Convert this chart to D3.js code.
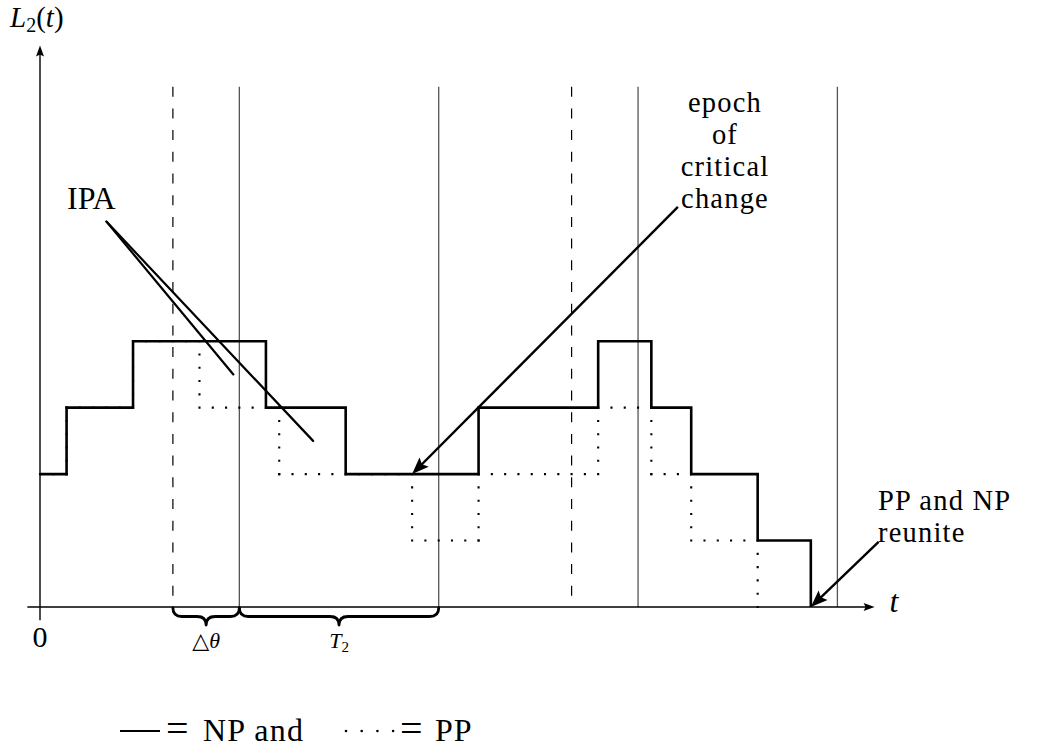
<!DOCTYPE html>
<html>
<head>
<meta charset="utf-8">
<script src="https://cdn.jsdelivr.net/npm/d3@7"></script>
<style>
  html, body { margin: 0; padding: 0; background: #fff; }
  svg { display: block; }
  text { font-family: "Liberation Serif", "DejaVu Serif", serif; fill: #000; }
</style>
</head>
<body>
<svg id="chart" width="1047" height="751"></svg>
<script>
// Step data: times at which each path changes level, and the level it takes
const npTimes  = [0, 4, 14, 34, 46, 66, 84, 92, 98, 108, 116];
const npLevels = [2, 3, 4, 3, 2, 3, 4, 3, 2, 1, 0];
const ppTimes  = [0, 4, 14, 24, 36, 56, 66, 84, 92, 98, 108];
const ppLevels = [2, 3, 4, 3, 2, 1, 2, 3, 2, 1, 0];

// Reference epochs
const solidEpochs  = [30, 60, 90, 120];
const dashedEpochs = [20, 80];

// Interval braces under the time axis
const braceStarts = [20, 30];
const braceEnds   = [30, 60];
const braceLabels = ["\u25B3\u03B8", "T2"];

const xTickValues = [0];
const xTickLabels = ["0"];

const svg = d3.select("#chart");

const x = d3.scaleLinear().domain([0, 120]).range([40, 40 + 120 * 6.645]);
const y = d3.scaleLinear().domain([0, 4]).range([607, 607 - 4 * 66.45]);

// ---- epoch lines ----
const epochTop = 7.83;
svg.selectAll("line.solid-epoch").data(solidEpochs).join("line")
  .attr("class", "solid-epoch")
  .attr("x1", d => x(d)).attr("x2", d => x(d))
  .attr("y1", y(epochTop)).attr("y2", y(0))
  .attr("stroke", "#555").attr("stroke-width", 1.3);

svg.selectAll("line.dashed-epoch").data(dashedEpochs).join("line")
  .attr("class", "dashed-epoch")
  .attr("x1", d => x(d)).attr("x2", d => x(d))
  .attr("y1", y(epochTop)).attr("y2", y(0))
  .attr("stroke", "#000").attr("stroke-width", 1.2)
  .attr("stroke-dasharray", "10 11.7");

// ---- axes ----
function arrowHead(g, tipX, tipY, angle, len, half, notch) {
  const ux = Math.cos(angle), uy = Math.sin(angle);
  const px = -uy, py = ux;
  const bx = tipX - ux * len, by = tipY - uy * len;
  const nx = tipX - ux * (len - notch), ny = tipY - uy * (len - notch);
  g.append("path")
    .attr("d", `M${tipX},${tipY} L${bx + px * half},${by + py * half} L${nx},${ny} L${bx - px * half},${by - py * half} Z`)
    .attr("fill", "#000");
}

const axes = svg.append("g");
const tAxis = [-1.9, 125.6];
const lAxis = [-0.2, 8.45];
axes.append("line")
  .attr("x1", x(tAxis[0])).attr("x2", x(tAxis[1]) - 4)
  .attr("y1", y(0)).attr("y2", y(0))
  .attr("stroke", "#000").attr("stroke-width", 1.4);
arrowHead(axes, x(tAxis[1]), y(0), 0, 11, 4, 2);
axes.append("line")
  .attr("x1", x(0)).attr("x2", x(0))
  .attr("y1", y(lAxis[0])).attr("y2", y(lAxis[1]) + 4)
  .attr("stroke", "#000").attr("stroke-width", 1.4);
arrowHead(axes, x(0), y(lAxis[1]), -Math.PI / 2, 11, 4, 2);

// axis labels
const yLab = svg.append("text").attr("x", 10).attr("y", 27).attr("font-size", 29);
yLab.append("tspan").attr("font-style", "italic").text("L");
yLab.append("tspan").attr("font-size", 20).attr("dy", 5).text("2");
yLab.append("tspan").attr("dy", -5).text("(");
yLab.append("tspan").attr("font-style", "italic").text("t");
yLab.append("tspan").text(")");

svg.append("text").attr("x", x(tAxis[1]) + 15).attr("y", y(0) + 5)
  .attr("font-size", 32).attr("font-style", "italic").text("t");

svg.selectAll("text.xtick").data(xTickValues).join("text")
  .attr("class", "xtick")
  .attr("x", d => x(d)).attr("y", 647)
  .attr("text-anchor", "middle").attr("font-size", 30)
  .text((d, i) => xTickLabels[i]);

// ---- PP path (dotted), drawn segment by segment so dots sit on corners ----
const dotGap = x(2) - x(0);
const ppSegs = [];
for (let i = 0; i < ppTimes.length - 1; i++) {
  ppSegs.push([ppTimes[i], ppLevels[i], ppTimes[i + 1], ppLevels[i]]);
  ppSegs.push([ppTimes[i + 1], ppLevels[i], ppTimes[i + 1], ppLevels[i + 1]]);
}
svg.append("g").selectAll("line").data(ppSegs).join("line")
  .attr("x1", d => x(d[0])).attr("y1", d => y(d[1]))
  .attr("x2", d => x(d[2])).attr("y2", d => y(d[3]))
  .attr("stroke", "#000").attr("stroke-width", 2.1)
  .attr("stroke-linecap", "square")
  .attr("stroke-dasharray", `0 ${dotGap}`);

// ---- NP path (solid) ----
const npPoints = npTimes.map((t, i) => [t, npLevels[i]]);
const stepLine = d3.line().x(d => x(d[0])).y(d => y(d[1])).curve(d3.curveStepAfter);
svg.append("path")
  .attr("d", stepLine(npPoints))
  .attr("fill", "none").attr("stroke", "#000").attr("stroke-width", 2.6)
  .attr("stroke-linejoin", "miter");

// ---- braces ----
function bracePath(x0, x1, top, h) {
  const xm = (x0 + x1) / 2, q = Math.min(9, (x1 - x0) / 5);
  const mid = top + h * 0.5;
  return `M${x0},${top} Q${x0},${mid} ${x0 + q},${mid} L${xm - q},${mid} Q${xm},${mid} ${xm},${top + h}` +
         ` Q${xm},${mid} ${xm + q},${mid} L${x1 - q},${mid} Q${x1},${mid} ${x1},${top}`;
}
const braceG = svg.append("g");
braceStarts.forEach((s, i) => {
  const x0 = x(s), x1 = x(braceEnds[i]);
  braceG.append("path")
    .attr("d", bracePath(x0, x1, 608, 17))
    .attr("fill", "none").attr("stroke", "#000").attr("stroke-width", 2.8)
    .attr("stroke-linecap", "round").attr("stroke-linejoin", "round");
  const lab = braceG.append("text")
    .attr("x", (x0 + x1) / 2).attr("y", 648)
    .attr("text-anchor", "middle").attr("font-size", 22);
  if (i === 0) {
    lab.append("tspan").text("\u25B3");
    lab.append("tspan").attr("font-style", "italic").text("\u03B8");
  } else {
    lab.append("tspan").attr("font-style", "italic").text("T");
    lab.append("tspan").attr("font-size", 15).attr("dy", 4).text("2");
  }
});

// ---- annotations ----
const ann = svg.append("g");
const ipaFrom = [10, 5.8];
const ipaTo = [[29.1, 3.5], [41.1, 2.5]];
ipaTo.forEach(p => {
  ann.append("line")
    .attr("x1", x(ipaFrom[0])).attr("y1", y(ipaFrom[1]))
    .attr("x2", x(p[0])).attr("y2", y(p[1]))
    .attr("stroke", "#000").attr("stroke-width", 2.2).attr("stroke-linecap", "round");
});
ann.append("text").attr("x", 67).attr("y", 209).attr("font-size", 32).text("IPA");

function arrow(from, to) {
  const x0 = x(from[0]), y0 = y(from[1]), x1 = x(to[0]), y1 = y(to[1]);
  const ang = Math.atan2(y1 - y0, x1 - x0);
  ann.append("line")
    .attr("x1", x0).attr("y1", y0)
    .attr("x2", x1 - Math.cos(ang) * 10).attr("y2", y1 - Math.sin(ang) * 10)
    .attr("stroke", "#000").attr("stroke-width", 2.4);
  arrowHead(ann, x1, y1, ang, 17, 6.5, 3);
}
arrow([96, 6.02], [56, 2]);
arrow([126.2, 0.98], [116, 0]);

const epochLines = ["epoch", "of", "critical", "change"];
ann.selectAll("text.epoch").data(epochLines).join("text")
  .attr("class", "epoch")
  .attr("x", 725).attr("y", (d, i) => 112 + i * 32)
  .attr("text-anchor", "middle").attr("font-size", 28.5)
  .attr("letter-spacing", 1.2)
  .text(d => d);

const reuniteLines = ["PP and NP", "reunite"];
ann.selectAll("text.reunite").data(reuniteLines).join("text")
  .attr("class", "reunite")
  .attr("x", 878).attr("y", (d, i) => 510 + i * 32)
  .attr("font-size", 28.5).attr("letter-spacing", 1.2)
  .text(d => d);

// ---- legend ----
const legend = svg.append("g");
legend.append("line").attr("x1", 120).attr("x2", 160).attr("y1", 731).attr("y2", 731)
  .attr("stroke", "#000").attr("stroke-width", 2);
legend.append("text").attr("x", 166).attr("y", 742).attr("font-size", 40).text("=");
legend.append("text").attr("x", 203).attr("y", 741).attr("font-size", 32)
  .attr("letter-spacing", 1.2).text("NP and");
legend.selectAll("circle").data([0, 1, 2, 3]).join("circle")
  .attr("cx", d => 346 + d * 15.7).attr("cy", 731).attr("r", 1.3).attr("fill", "#000");
legend.append("text").attr("x", 400).attr("y", 742).attr("font-size", 40).text("=");
legend.append("text").attr("x", 435).attr("y", 741).attr("font-size", 32)
  .attr("letter-spacing", 1).text("PP");
</script>
</body>
</html>
